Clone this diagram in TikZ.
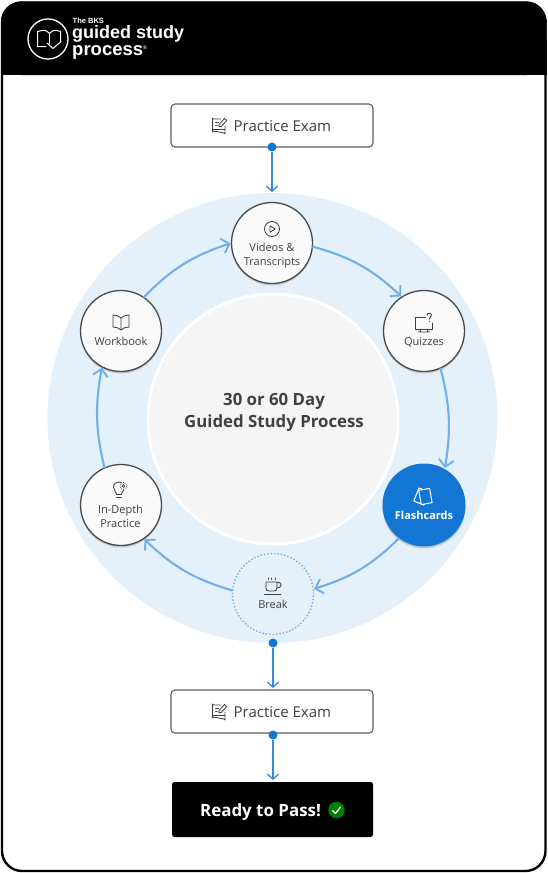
\documentclass[tikz,border=0pt]{standalone}
\usepackage{fontspec}
\setmainfont{Open Sans}
\newfontfamily\logofont{Liberation Sans}
\usetikzlibrary{arrows.meta,shadows,bending}
\definecolor{disc}{HTML}{E4F0FA}
\definecolor{flow}{HTML}{6FB0EA}
\definecolor{solid}{HTML}{1476D4}
\definecolor{ink}{HTML}{404040}
\tikzset{
  cyc/.style={circle,draw=ink!95,line width=1.3pt,fill=white!98!black,minimum size=81pt,inner sep=0pt,outer sep=0pt,
    drop shadow={opacity=.35,shadow xshift=0pt,shadow yshift=-2pt}},
  lab/.style={align=center,font=\fontsize{11}{14}\selectfont,text=ink,inner sep=0pt},
  flowline/.style={draw=flow,line width=2.1pt,-{Straight Barb[length=7pt,width=15pt,line width=1.9pt]},shorten >=1pt},
  drop/.style={draw=solid!85!white,line width=1.5pt,-{Straight Barb[length=5pt,width=11pt,line width=1.3pt]}},
  exam/.style={draw=ink!85,line width=1.1pt,rounded corners=4pt,fill=white,minimum width=202pt,minimum height=43pt,inner sep=0pt,outer sep=0pt},
  ic/.style={draw=ink,line width=.85pt,line join=round,line cap=round,fill=none},
  wic/.style={draw=white,line width=1pt,line join=round,line cap=round},
  dot/.style={circle,fill=solid,minimum size=9pt,inner sep=0pt}
}
\newcommand{\examicon}[2]{\begin{scope}[shift={(#1,#2)}]
  \draw[ic] (1.5,-7) -- (-6,-7) arc[start angle=90,end angle=180,radius=1] -- (-7,6) arc[start angle=180,end angle=270,radius=1] -- (4.5,7) arc[start angle=270,end angle=360,radius=1] -- (5.5,0);
  \draw[ic] (-7,3.5) -- (5.5,3.5);
  \draw[ic] (-4,-4) -- (-1,-4) (-4,-1) -- (-2.2,-1);
  \draw[ic] (-.5,-1.5) -- (5,-7.5) -- (7.2,-5.5) -- (1.7,.5) -- (-.6,.8) -- cycle;
\end{scope}}
\begin{document}
\begin{tikzpicture}[x=1pt,y=-1pt]
\useasboundingbox (0,0) rectangle (547,873);
\fill[white] (0,0) rectangle (547,873);
% frame and header
\draw[black,line width=2.4pt,rounded corners=20pt] (2,2.5) rectangle (545.5,871);
\fill[black,rounded corners=20pt] (1,1.5) -- (546.5,1.5) -- (546.5,40) -- (546.5,75) -- (1,75) -- cycle;
\fill[black] (1,40) rectangle (546.5,75);
% logo
\node[circle,draw=white,line width=1.3pt,minimum size=40pt,inner sep=0pt] (logo) at (48,39) {};
\draw[wic] (46,46.5) -- (37.5,46.5) -- (37.5,31.5) -- (42,30.5) .. controls (45.5,30) and (48,31) .. (49.5,33.5) .. controls (51,31) and (53.5,30) .. (57,30.5) -- (60.5,31.5) -- (60.5,41);
\draw[wic] (49.5,33.5) -- (49.5,44);
\draw[wic] (47,43) -- (53,48.5) -- (61,41.5);
\node[anchor=base west,inner sep=0pt,text=white,font=\logofont\bfseries\fontsize{7.5}{7.5}\selectfont] (brand) at (72.5,23.5) {The BKS};
\node[anchor=base west,inner sep=0pt,text=white,font=\logofont\bfseries\fontsize{18}{18}\selectfont] (guided) at (72,38.5) {guided study};
\node[anchor=base west,inner sep=0pt,text=white,font=\logofont\bfseries\fontsize{18.5}{18.5}\selectfont] (proc) at (72,55.5) {process\raisebox{6pt}{\fontsize{5}{5}\selectfont®}};
% discs
\node[circle,fill=disc,minimum size=450pt,inner sep=0pt,outer sep=0pt] (disc) at (272.5,418) {};
\node[circle,draw=white,line width=3pt,fill=black!4,minimum size=250pt,inner sep=0pt] (hub) at (273,419) {};
\node[align=center,inner sep=0pt,text=ink,font=\bfseries\fontsize{16.8}{22}\selectfont] (hubl) at (274,412.5) {30 or 60 Day\\Guided Study Process};
% nodes
\node[cyc] (v) at (272,243) {};
\node[cyc] (q) at (424,331) {};
\node[cyc,draw=none,fill=solid,minimum size=83pt] (f) at (424,505) {};
\node[circle,draw=flow,line width=1.4pt,dotted,fill=disc,minimum size=81pt,inner sep=0pt,outer sep=0pt] (b) at (273,594) {};
\node[cyc] (i) at (121,505) {};
\node[cyc] (w) at (121,331) {};
% labels
\node[lab] (vl) at (272,255.5) {Videos \&\\Transcripts};
\node[lab] (ql) at (424,342.5) {Quizzes};
\node[lab,text=white,font=\bfseries\fontsize{11}{14}\selectfont] (fl) at (424,515.5) {Flashcards};
\node[lab] (bl) at (273,604) {Break};
\node[lab] (il) at (120.5,516) {In-Depth\\Practice};
\node[lab] (wl) at (121,341) {Workbook};
% cycle arrows
\draw[flowline] (v.-5) to[bend left=14] (q.123);
\draw[flowline] (q.-66) to[bend left=12] (f.60);
\draw[flowline] (f.233) to[bend left=14] (b.7);
\draw[flowline] (b.175) to[bend left=14] (i.-56);
\draw[flowline] (i.114) to[bend left=12] (w.242);
\draw[flowline] (w.56) to[bend left=14] (v.180);
% exam boxes
\node[exam] (e1) at (272,125.5) {};
\node[exam] (e2) at (272,711.5) {};
\node[anchor=west,inner sep=0pt,text=ink,font=\fontsize{15}{16}\selectfont] (e1t) at (233.5,126) {Practice Exam};
\node[anchor=west,inner sep=0pt,text=ink,font=\fontsize{15}{16}\selectfont] (e2t) at (233.5,712) {Practice Exam};
\examicon{219.5}{126}
\examicon{219.5}{712}
% pass box
\node[fill=black,rounded corners=2.5pt,minimum width=201pt,minimum height=55pt,inner sep=0pt,outer sep=0pt] (p) at (272.5,809.5) {};
\node[anchor=base west,inner sep=0pt,text=white,font=\bfseries\fontsize{16.9}{17}\selectfont] (pt) at (200,816) {Ready to Pass!};
\node[circle,fill=green!50!black,minimum size=16.5pt,inner sep=0pt] (ok) at (336.5,810) {};
\draw[white,line width=1.2pt,line cap=round,line join=round] (332.5,810.5) -- (335.5,813.5) -- (340.5,807);
% straight connectors
\node[dot] (d1) at (272,147) {};
\node[dot] (d2) at (273,643) {};
\node[dot] (d3) at (273,735) {};
\draw[drop,shorten >=1pt] (d1) -- (d1 |- disc.north);
\draw[drop,shorten >=2pt] (d2) -- (d2 |- e2.north);
\draw[drop,shorten >=2pt] (d3) -- (d3 |- p.north);
% play
\begin{scope}[shift={(272,229)}]
 \draw[ic] (0,0) circle[radius=7.5];
 \draw[ic] (-2,-3.2) -- (3.2,0) -- (-2,3.2) -- cycle;
\end{scope}
% monitor
\begin{scope}[shift={(424,324)}]
 \draw[ic] (1.5,-7) -- (-8.5,-7) -- (-8.5,5) -- (8,5) -- (8,-1);
 \draw[ic] (-3,5) -- (-4,8) (3,5) -- (4,8) (-6,8) -- (6,8);
 \draw[ic] (3,-8.5) .. controls (3,-11.5) and (7.5,-11.5) .. (7.5,-8.8) .. controls (7.5,-7) and (5.3,-7) .. (5.3,-4.8);
 \draw[ic] (5.3,-2.5) -- (5.3,-2.4);
\end{scope}
% cards
\begin{scope}[shift={(424,497)}]
 \draw[wic,fill=solid,rotate=-22] (-8,-6.5) rectangle (3,7.5);
 \draw[wic,fill=solid,rotate=10] (-4,-7.5) rectangle (7,7);
\end{scope}
% cup
\begin{scope}[shift={(273,586)}]
 \draw[ic] (-7,-4) -- (-7,2) .. controls (-7,4) and (-6,5) .. (-4,5) -- (1,5) .. controls (3,5) and (4,4) .. (4,2) -- (4,-4) -- cycle;
 \draw[ic] (4,-3.5) -- (6,-3.5) .. controls (9,-3.5) and (9,2) .. (4,2);
 \draw[ic] (-8.5,8) -- (8,8);
 \draw[ic] (-5,-8) -- (-5,-6.5) (-1.5,-8) -- (-1.5,-6.5) (2,-8) -- (2,-6.5);
\end{scope}
% book
\begin{scope}[shift={(121,323)}]
 \draw[ic] (0,-5) .. controls (-2,-7) and (-5,-8) .. (-8,-8) -- (-8,4) .. controls (-5,4) and (-2,5) .. (0,7) .. controls (2,5) and (5,4) .. (8,4) -- (8,-8) .. controls (5,-8) and (2,-7) .. (0,-5) -- (0,7);
\end{scope}
% bulb
\begin{scope}[shift={(119,490)}]
 \draw[ic] (-2.5,4) .. controls (-2.5,1.5) and (-5.5,0.5) .. (-5.5,-3) .. controls (-5.5,-6.5) and (-2.5,-8) .. (0,-8) .. controls (1,-8) and (2,-7.8) .. (2.5,-7.3);
 \draw[ic] (2.5,4) .. controls (2.5,2.5) and (4,1.5) .. (4.8,0);
 \draw[ic] (-2.5,4) -- (2.5,4) (-2.5,7.5) -- (2.5,7.5);
 \draw[draw=ink,line width=.7pt,densely dotted] (4.5,-4) circle[radius=3.4];
 \draw[draw=ink,line width=.6pt] (4.5,-4) circle[radius=1.4];
\end{scope}
\end{tikzpicture}
\end{document}
